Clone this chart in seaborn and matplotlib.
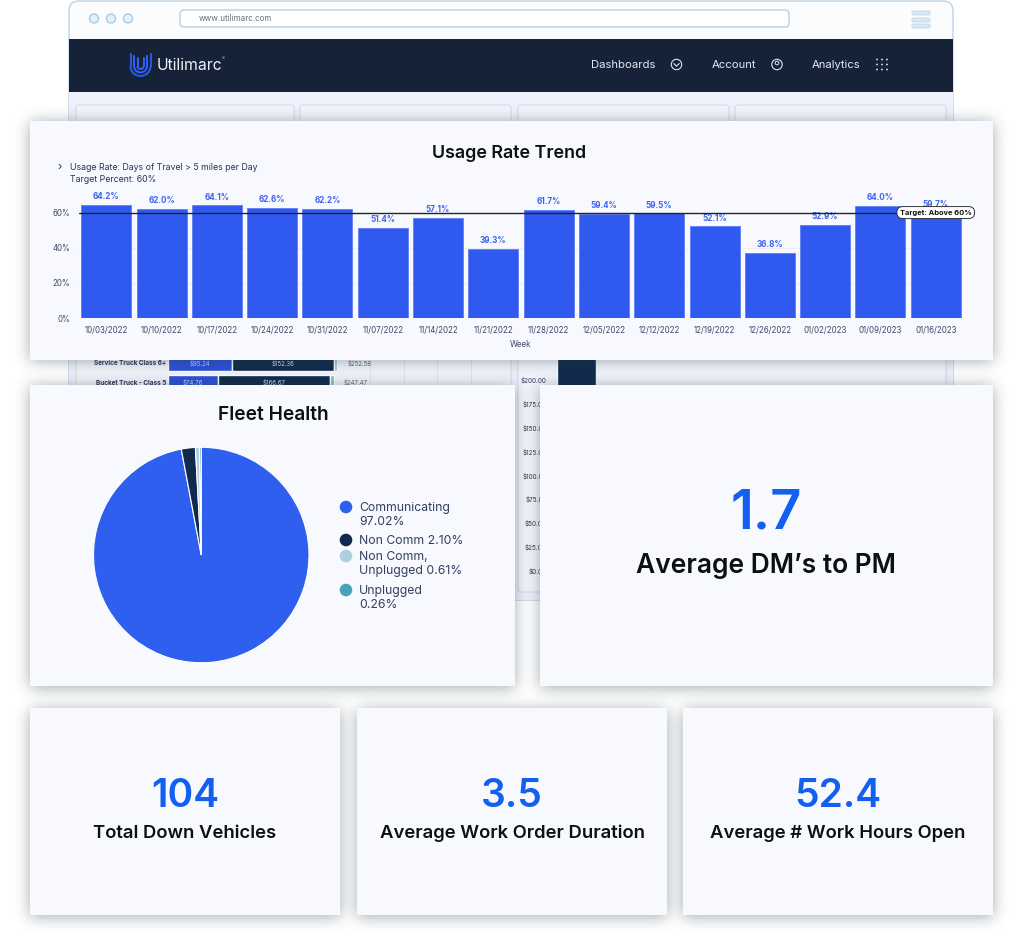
import matplotlib
matplotlib.use("Agg")
import matplotlib.pyplot as plt
import seaborn as sns
import pandas as pd
import numpy as np
from matplotlib.patches import FancyBboxPatch, Rectangle, Circle, Arc

weeks = ["10/03/2022","10/10/2022","10/17/2022","10/24/2022","10/31/2022","11/07/2022","11/14/2022","11/21/2022",
         "11/28/2022","12/05/2022","12/12/2022","12/19/2022","12/26/2022","01/02/2023","01/09/2023","01/16/2023"]
usage = [64.2,62.0,64.1,62.6,62.2,51.4,57.1,39.3,61.7,59.4,59.5,52.1,36.8,52.9,64.0,59.7]
target = 60
pie_labels = ["Communicating\n97.02%","Non Comm 2.10%","Non Comm,\nUnplugged 0.61%","Unplugged\n0.26%"]
pie_values = [97.02,2.10,0.61,0.26]
pie_colors = ["#2f5fee","#0f2a4d","#aecfe2","#46a3b8"]
kpi_values = ["104","3.5","52.4"]
kpi_names = ["Total Down Vehicles","Average Work Order Duration","Average # Work Hours Open"]
back_types = ["Service Truck Class 6+","Bucket Truck - Class 5"]
back_a = [95.24,74.76]
back_b = [152.36,166.67]
back_c = [4.98,6.04]
back_totals = ["$252.58","$247.47"]
back_ticks = [200,175,150,125,100,75,50,25,0]

W,H = 1024,946
sns.set_theme(style="white")
plt.rcParams['font.family'] = ['Inter','DejaVu Sans']
fig = plt.figure(figsize=(W/100,H/100),dpi=100,facecolor="white")

def px_axes(x0,y0,x1,y1,z):
    return fig.add_axes([x0/W,1-y1/H,(x1-x0)/W,(y1-y0)/H],zorder=z)

# ---------- base layer: browser frame
bg = px_axes(0,0,W,H,0)
bg.set_xlim(0,W); bg.set_ylim(H,0); bg.axis("off")
def rrect(ax,x0,y0,x1,y1,r,fc,ec="none",lw=0,alpha=1,z=1):
    p = FancyBboxPatch((x0+r,y0+r),x1-x0-2*r,y1-y0-2*r,boxstyle=f"round,pad={r},rounding_size={r}",
                       fc=fc,ec=ec,lw=lw,alpha=alpha,zorder=z)
    ax.add_patch(p); return p
rrect(bg,69,1,953,600,10,"#fbfcfe","#bcd3e6",1,z=1)
bg.add_patch(Rectangle((69,92),884,508,fc="#eef1fb",ec="none",zorder=1.5))
bg.add_patch(Rectangle((69,39),884,53,fc="#162238",ec="none",zorder=2))
for x in (94,111,128):
    bg.add_patch(Circle((x,18.5),4.5,fc="#e6f0f8",ec="#a9cbe2",lw=1,zorder=2))
rrect(bg,180,10,789,27,4,"white","#b7d0e2",1,z=2)
bg.text(199,18.5,"www.utilimarc.com",fontsize=5.8,color="#6a7078",va="center",zorder=3)
for y in (13,20,26):
    rrect(bg,912,y-2,930,y+2,1,"#d9e8f3","#b5d2e6",.5,z=2)
# nav bar logo: three nested U shapes
for hw,col in ((10,"#2a55e6"),(6.5,"#2f5fee"),(3,"#2f5fee")):
    bg.add_patch(Arc((140.5,66),2*hw,2*hw,theta1=0,theta2=180,color=col,lw=1.5,zorder=3))
    bg.plot([140.5-hw]*2,[54+ (10-hw)*.6,66],color=col,lw=1.5,zorder=3)
    bg.plot([140.5+hw]*2,[54+ (10-hw)*.6,66],color=col,lw=1.5,zorder=3)
bg.text(157,65.5,"Utilimarc",fontsize=11.3,color="#eef2f8",va="center",zorder=3)
bg.text(222,58,"®",fontsize=3,color="#eef2f8",va="center",zorder=3)
nav = [("Dashboards",591),("Account",711.5),("Analytics",812)]
for t,x in nav:
    bg.text(x,65,t,fontsize=8.1,color="#e6eaf2",va="center",zorder=3)
bg.add_patch(Circle((676.5,64.5),5.2,fc="none",ec="#dfe5ee",lw=.8,zorder=3))
bg.plot([673.8,676.5,679.2],[63.5,66.2,63.5],color="#dfe5ee",lw=.8,zorder=3)
bg.add_patch(Circle((777,64.5),5.2,fc="none",ec="#dfe5ee",lw=.8,zorder=3))
bg.add_patch(Circle((777,63),1.8,fc="none",ec="#dfe5ee",lw=.7,zorder=3))
for x in (877,882,887):
    for y in (59.5,64.5,69.5):
        bg.add_patch(Circle((x,y),.9,fc="#dfe5ee",ec="none",zorder=3))
# ghost panels under the cards
for x0,x1 in ((76,294),(300,511),(518,729),(735,946)):
    rrect(bg,x0,105,x1,200,3,"#f3f5fc","#d6dbe6",.8,z=2)
rrect(bg,76,340,511,592,3,"#f3f5fc","#d6dbe6",.8,z=2)
rrect(bg,518,340,946,592,3,"#f3f5fc","#d6dbe6",.8,z=2)
for x in (370,404,437,471):
    bg.plot([x,x],[345,385],color="#e0e3ec",lw=.6,zorder=2.1)

# behind-the-cards chart slivers
back_ax = px_axes(168,340,503,397,2)
back_ax.patch.set_alpha(0); back_ax.axis("off")
back_df = pd.DataFrame({"t":back_types,"a":back_a,"b":back_b,"c":back_c})
back_ax.set_xlim(0,335/0.67); back_ax.set_ylim(1.74,-1.2)
back_ax.barh(back_df.t,back_df.a,height=.75,color="#2d50d8")
back_ax.barh(back_df.t,back_df.b,left=back_df.a,height=.75,color="#0f2a4d")
back_ax.barh(back_df.t,back_df.c,left=back_df.a+back_df.b,height=.75,color="#8fbfd6")
for i,(t,a,b,tot) in enumerate(zip(back_types,back_a,back_b,back_totals)):
    back_ax.text(-3,i,t,ha="right",va="center",fontsize=4.6,color="#2b3557",fontweight="bold")
    back_ax.text(a/2,i,f"${a:.2f}",ha="center",va="center",fontsize=4.4,color="#c9d4f5")
    back_ax.text(a+b/2,i,f"${b:.2f}",ha="center",va="center",fontsize=4.4,color="#dbe2ee")
    back_ax.text(a+b+20,i,tot,ha="left",va="center",fontsize=4.4,color="#5b6480")
side_ax = px_axes(557,190,596,571,2)
side_ax.patch.set_alpha(0); side_ax.axis("off")
side_ax.set_xlim(0,1); side_ax.set_ylim(0,400.2)
side_ax.bar([.5],[300],width=1,color="#0f2a4d",zorder=1)
for v in back_ticks:
    side_ax.text(-0.26,v,f"${v}.00",ha="right",va="center",fontsize=4.6,color="#2b3557",clip_on=False)
side_ax.text(1.28,187.06,"$187.06",ha="left",va="center",fontsize=4.4,color="#5b6480",clip_on=False)

# ---------- cards with soft shadow
top = px_axes(0,0,W,H,3)
top.set_xlim(0,W); top.set_ylim(H,0); top.axis("off"); top.patch.set_alpha(0)
cards = [(30,121,993,360),(30,385,515,686),(540,385,993,686),(30,708,340,915),(357,708,667,915),(683,708,993,915)]
mask = np.zeros((H,W))
for c in cards:
    mask[c[1]+2:c[3]+2,c[0]:c[2]] = 1
def blur(a,r):
    k = np.ones(2*r+1)/(2*r+1)
    a = np.apply_along_axis(lambda m:np.convolve(m,k,mode="same"),0,a)
    return np.apply_along_axis(lambda m:np.convolve(m,k,mode="same"),1,a)
for _ in range(3):
    mask = blur(mask,7)
shadow = np.zeros((H,W,4))
shadow[...,:3] = matplotlib.colors.to_rgb("#26383f")
shadow[...,3] = np.clip(mask*.42,0,1)
top.imshow(shadow,extent=(0,W,H,0),zorder=1,interpolation="nearest",aspect="auto")
top.set_xlim(0,W); top.set_ylim(H,0)
for c in cards:
    top.add_patch(Rectangle((c[0],c[1]),c[2]-c[0],c[3]-c[1],fc="#f8f9ff",ec="none",zorder=2))
ink = "#0c0f14"; blue="#1360f0"
top.text(509,153,"Usage Rate Trend",ha="center",va="center",fontsize=12.9,color=ink,fontweight="semibold",zorder=3)
top.text(273,415,"Fleet Health",ha="center",va="center",fontsize=13.8,color=ink,fontweight="semibold",zorder=3)
top.text(766,514,"1.7",ha="center",va="center",fontsize=39,color=blue,fontweight="semibold",zorder=3)
top.text(766,566,"Average DM’s to PM",ha="center",va="center",fontsize=19,color=ink,fontweight="semibold",zorder=3)
for c,v,n in zip(cards[3:],kpi_values,kpi_names):
    cx=(c[0]+c[2])/2
    top.text(cx,796,v,ha="center",va="center",fontsize=28,color=blue,fontweight="semibold",zorder=3)
    top.text(cx,833,n,ha="center",va="center",fontsize=13.3,color=ink,fontweight="semibold",zorder=3)
top.text(59.5,167,"›",ha="center",va="center",fontsize=8,color="#27335a",zorder=3)
top.text(70,167,"Usage Rate: Days of Travel > 5 miles per Day",va="center",fontsize=6.3,color="#27335a",zorder=3)
top.text(70,180,"Target Percent: 60%",va="center",fontsize=6.3,color="#27335a",zorder=3)
# pie legend
leg_y = [507,540,556,590]
for lab,col,y in zip(pie_labels,pie_colors,leg_y):
    top.add_patch(Circle((346,y),6.3,fc=col,ec="none",zorder=3))
    top.text(359,y-5.5,lab,va="top",fontsize=8.8,color="#33405f",linespacing=1.32,zorder=3)

# ---------- bar chart
ax = px_axes(78.6,195,963.4,318,4)
ax.patch.set_alpha(0)
df = pd.DataFrame({"week":weeks,"usage":usage})
sns.barplot(data=df,x="week",y="usage",color="#3059f0",saturation=1,width=.905,ax=ax,zorder=2,
            edgecolor="#5f80f4",linewidth=.6)
ax.set_xlim(-.5,15.5)
ax.set_ylim(0,70)
ax.set_yticks([0,20,40,60]); ax.set_yticklabels(["0%","20%","40%","60%"])
ax.tick_params(axis="both",length=0,labelsize=5.7,labelcolor="#3f4868",pad=6)
ax.set_xlabel("Week",fontsize=5.8,color="#3f4868",labelpad=3); ax.set_ylabel("")
ax.grid(axis="y",color="#eceef6",lw=.7,zorder=0); ax.set_axisbelow(True)
sns.despine(ax=ax,left=True,bottom=True)
for i,v in enumerate(usage):
    ax.text(i,v+2.2,f"{v:.1f}%",ha="center",va="bottom",fontsize=5.8,color="#3e63ee",fontweight="bold",zorder=3,clip_on=False)
ax.plot([-.5,14.4],[target,target],color="#20232c",lw=1,zorder=5)
ax.text(15,target,"Target: Above 60%",ha="center",va="center",fontsize=5.4,color="#101218",fontweight="bold",zorder=6,clip_on=False,
        bbox=dict(boxstyle="round,pad=0.4,rounding_size=.8",fc="white",ec="#30343c",lw=.7))

# ---------- pie
pax = px_axes(93.5,447,309,663,4)
pax.patch.set_alpha(0)
pax.pie(pie_values,colors=pie_colors,startangle=90,counterclock=False,radius=1,
        wedgeprops=dict(edgecolor="white",linewidth=.8))
pax.set_xlim(-1,1); pax.set_ylim(-1,1)

fig.savefig("out.png",dpi=100,facecolor="white")
